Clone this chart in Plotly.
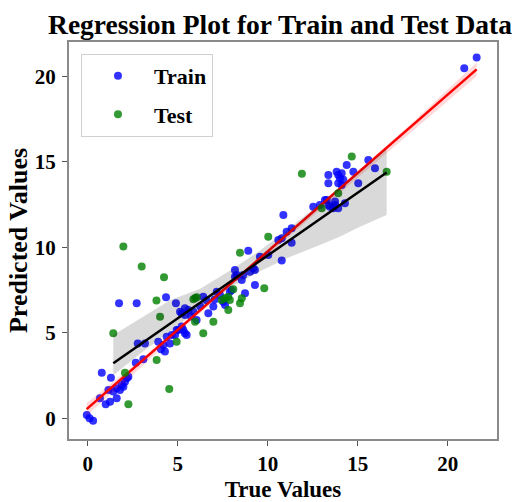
import numpy as np
import plotly.graph_objects as go

# ---------------- data ----------------
train_x = [-0.05, 0.10, 0.30, 0.68, 1.00, 1.24, 1.61, 0.78, 1.29, 1.15, 1.42, 1.61, 1.89, 1.98,
           2.07, 2.17, 1.79, 2.26, 2.67, 3.09, 2.78, 3.18, 3.92, 4.07, 4.20, 4.29, 4.39, 4.67,
           5.03, 5.22, 5.40, 5.22, 5.59, 1.74, 2.72, 4.35, 4.90, 5.40, 5.13, 5.40, 5.31, 5.50,
           4.94, 4.85, 4.57, 6.05, 5.87, 6.42, 6.70, 6.98, 7.17, 7.35, 7.53, 7.63, 8.00, 8.18,
           8.74, 9.29, 9.02, 5.75, 6.25, 6.60, 7.05, 10.87, 11.05, 11.33, 10.59, 10.78, 11.33,
           10.03, 9.57, 8.92, 10.78, 8.18, 8.28, 9.20, 9.29, 8.64, 8.56, 7.90, 12.53, 12.90,
           13.28, 13.46, 13.74, 13.37, 13.37, 13.83, 13.92, 14.02, 14.11, 14.20, 13.92, 14.11,
           14.39, 14.76, 15.03, 15.59, 15.96, 13.18, 13.37, 13.64, 13.92, 13.74, 14.29, 20.92,
           21.61]
train_y = [0.20, 0.00, -0.14, 1.17, 0.82, 0.97, 1.17, 2.67, 2.37, 1.65, 1.56, 1.75, 1.95, 1.85,
           2.14, 2.34, 1.65, 2.43, 3.25, 3.45, 4.38, 4.38, 4.48, 4.03, 4.29, 3.90, 4.77, 4.87,
           5.16, 5.36, 4.97, 6.14, 6.33, 6.72, 6.72, 7.08, 6.72, 6.43, 6.23, 6.04, 5.16, 4.87,
           5.16, 4.87, 4.38, 5.75, 6.23, 7.11, 6.14, 6.53, 7.40, 7.21, 6.82, 6.63, 7.50, 8.28,
           7.31, 7.80, 8.57, 5.95, 6.55, 6.90, 6.95, 11.89, 10.91, 11.11, 10.43, 10.53, 10.27,
           9.55, 9.45, 9.80, 9.22, 8.67, 8.38, 8.77, 8.67, 8.38, 8.09, 7.40, 12.37, 12.47,
           12.77, 12.37, 12.47, 14.23, 13.74, 14.42, 14.23, 14.04, 14.33, 13.94, 13.74, 13.64,
           14.81, 14.42, 13.74, 15.10, 14.62, 12.77, 12.47, 12.28, 12.28, 12.67, 12.57, 20.47,
           21.10]

test_x = [1.42, 1.98, 3.00, 4.24, 3.82, 5.87, 6.06, 4.02, 2.07, 2.26, 3.83, 4.53, 4.94, 5.96,
          6.42, 5.97, 7.44, 7.63, 7.80, 7.90, 7.81, 6.98, 8.46, 8.56, 9.81, 10.03, 8.46, 8.09,
          13.00, 11.90, 14.67, 16.61, 13.92]
test_y = [4.97, 10.04, 8.87, 8.25, 6.88, 6.96, 7.08, 5.94, 2.67, 0.82, 3.41, 1.71, 4.48, 5.65,
          4.97, 7.04, 6.92, 7.02, 7.11, 6.92, 6.33, 5.65, 6.72, 7.02, 7.60, 10.62, 9.68, 7.54,
          12.28, 14.30, 15.30, 14.42, 13.16]

# regression lines and confidence bands
train_fit_x = [-0.06, 21.61]
train_fit_y = [0.54, 20.40]
train_band_x = [-0.06, 2.5, 5.0, 7.5, 10.0, 12.5, 15.0, 18.0, 21.61]
train_band_upper = [0.90, 3.05, 5.29, 7.55, 9.83, 12.13, 14.45, 17.25, 20.80]
train_band_lower = [0.18, 2.55, 4.97, 7.33, 9.59, 11.83, 14.05, 16.75, 20.00]

test_fit_x = [1.42, 16.61]
test_fit_y = [3.22, 14.37]
test_band_x = [1.42, 3.0, 4.57, 6.25, 8.0, 9.5, 11.06, 12.9, 14.0, 15.1, 16.61]
test_band_upper = [4.87, 5.90, 6.90, 7.57, 8.70, 9.75, 11.00, 12.55, 13.50, 14.45, 15.79]
test_band_lower = [2.52, 3.85, 5.08, 6.40, 7.70, 8.55, 9.36, 10.13, 10.62, 11.19, 11.89]

x_ticks = [0, 5, 10, 15, 20]
y_ticks = [0, 5, 10, 15, 20]

BLUE = 'rgba(0,0,255,0.8)'
GREEN = 'rgba(0,128,0,0.8)'

fig = go.Figure()

# train
fig.add_trace(go.Scatter(x=train_x, y=train_y, mode='markers', name='Train', legendgroup='train',
                         marker=dict(color=BLUE, size=8, line=dict(width=0))))
fig.add_trace(go.Scatter(x=train_band_x + train_band_x[::-1],
                         y=train_band_upper + train_band_lower[::-1],
                         fill='toself', fillcolor='rgba(255,0,0,0.15)', line=dict(width=0),
                         mode='lines', hoverinfo='skip', showlegend=False))
fig.add_trace(go.Scatter(x=train_fit_x, y=train_fit_y, mode='lines',
                         line=dict(color='red', width=2.5), showlegend=False))

# test
fig.add_trace(go.Scatter(x=test_x, y=test_y, mode='markers', name='Test', legendgroup='test',
                         marker=dict(color=GREEN, size=8, line=dict(width=0))))
fig.add_trace(go.Scatter(x=test_band_x + test_band_x[::-1],
                         y=test_band_upper + test_band_lower[::-1],
                         fill='toself', fillcolor='rgba(0,0,0,0.15)', line=dict(width=0),
                         mode='lines', hoverinfo='skip', showlegend=False))
fig.add_trace(go.Scatter(x=test_fit_x, y=test_fit_y, mode='lines',
                         line=dict(color='black', width=2.5), showlegend=False))

FONT = 'Liberation Serif'
axis_common = dict(showgrid=False, zeroline=False, showline=True, linecolor='#8a8a8a',
                   linewidth=2, mirror=True, ticks='outside', ticklen=5, tickwidth=1,
                   tickcolor='#555555', automargin=False,
                   tickfont=dict(family=FONT, size=21, color='black', weight='bold'))

fig.update_layout(
    width=515, height=502,
    margin=dict(l=69, r=18, t=42, b=63),
    plot_bgcolor='white', paper_bgcolor='white',
    font=dict(family=FONT, color='black'),
    title=dict(text='Regression Plot for Train and Test Data', x=(280 - 69) / 428, xref='paper',
               xanchor='center', y=1 - 24 / 502, yref='container', yanchor='middle',
               automargin=False,
               font=dict(family=FONT, size=27.5, color='black', weight='bold')),
    xaxis=dict(range=[-1.04, 22.74], tickvals=x_ticks, ticktext=[str(v) for v in x_ticks],
               ticklabelstandoff=0,
               title=dict(text='True Values', standoff=6,
                          font=dict(family=FONT, size=23, color='black', weight='bold')),
               **axis_common),
    yaxis=dict(range=[-1.21, 22.0], tickvals=y_ticks, ticktext=[str(v) for v in y_ticks],
               ticklabelstandoff=2,
               title=dict(text='Predicted Values', standoff=0,
                          font=dict(family=FONT, size=26, color='black', weight='bold')),
               **axis_common),
    legend=dict(x=0.028, y=0.97, xanchor='left', yanchor='top', bgcolor='rgba(255,255,255,0.8)',
                bordercolor='#d0d0d0', borderwidth=1, traceorder='grouped', tracegroupgap=7,
                itemwidth=62,
                font=dict(family=FONT, size=22, color='black', weight='bold')),
)

fig.write_html('out.html')
